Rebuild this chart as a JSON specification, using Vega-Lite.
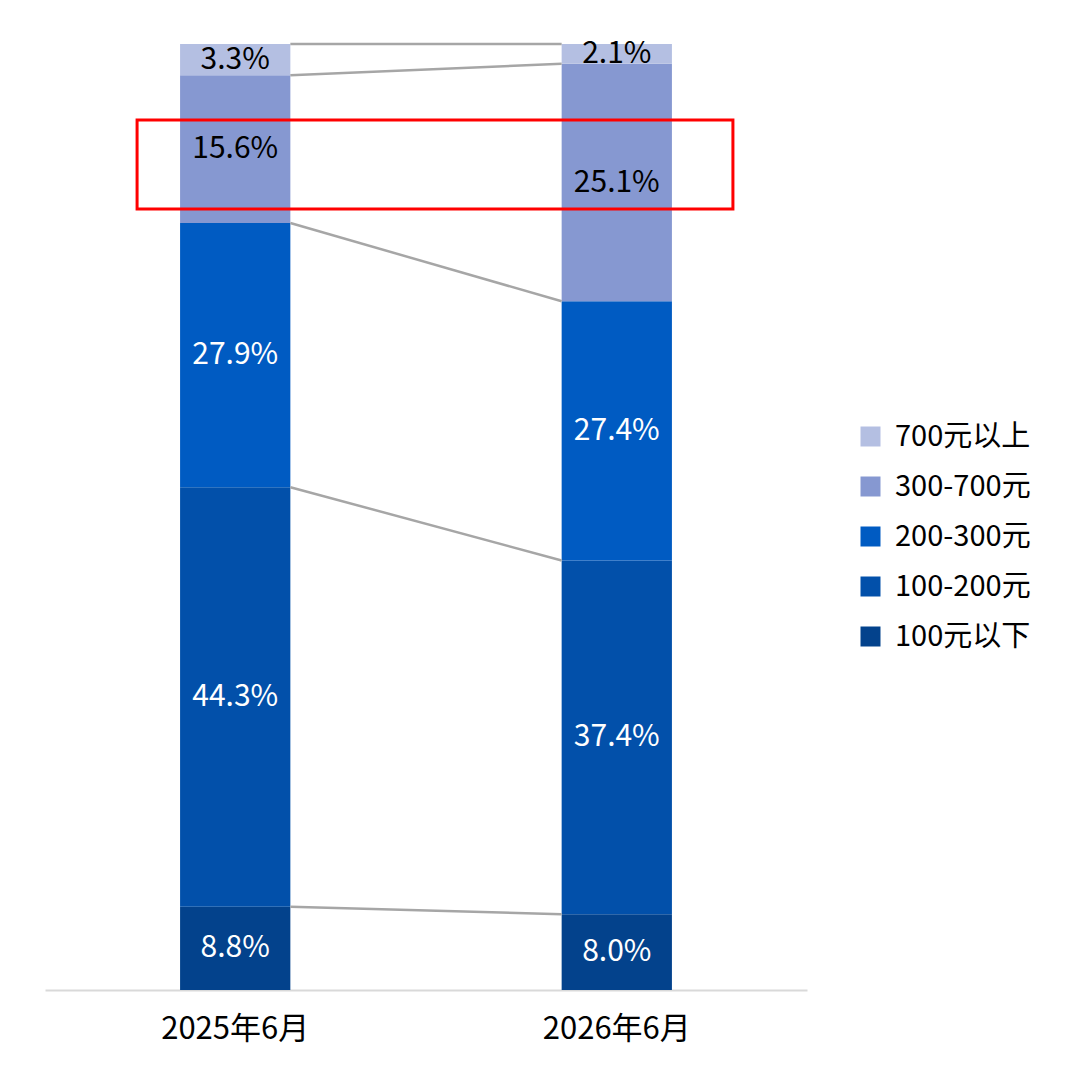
{
  "$schema": "https://vega.github.io/schema/vega-lite/v6.json",
  "width": 762,
  "height": 946,
  "autosize": {"type": "none"},
  "padding": {"left": 45, "top": 44, "right": 273, "bottom": 90},
  "background": "white",
  "data": {
    "values": [
      {"month": "2025年6月", "tier": "100元以下", "k": 1, "share": 8.8},
      {"month": "2025年6月", "tier": "100-200元", "k": 2, "share": 44.3},
      {"month": "2025年6月", "tier": "200-300元", "k": 3, "share": 27.9},
      {"month": "2025年6月", "tier": "300-700元", "k": 4, "share": 15.6},
      {"month": "2025年6月", "tier": "700元以上", "k": 5, "share": 3.3},
      {"month": "2026年6月", "tier": "100元以下", "k": 1, "share": 8.0},
      {"month": "2026年6月", "tier": "100-200元", "k": 2, "share": 37.4},
      {"month": "2026年6月", "tier": "200-300元", "k": 3, "share": 27.4},
      {"month": "2026年6月", "tier": "300-700元", "k": 4, "share": 25.1},
      {"month": "2026年6月", "tier": "700元以上", "k": 5, "share": 2.1}
    ]
  },
  "transform": [
    {
      "stack": "share",
      "groupby": ["month"],
      "sort": [{"field": "k", "order": "ascending"}],
      "offset": "normalize",
      "as": ["y0", "y1"]
    },
    {"calculate": "(datum.y0 + datum.y1) / 2", "as": "mid"},
    {"calculate": "format(datum.share, '.1f') + '%'", "as": "label"}
  ],
  "encoding": {
    "x": {
      "field": "month",
      "type": "nominal",
      "title": null,
      "scale": {"paddingInner": 0.711, "paddingOuter": 0.354},
      "axis": {
        "labelAngle": 0,
        "labelFontSize": 31,
        "labelColor": "#000000",
        "labelPadding": 24,
        "ticks": false,
        "domainColor": "#d9d9d9",
        "domainWidth": 2
      }
    }
  },
  "layer": [
    {
      "mark": {"type": "bar"},
      "encoding": {
        "y": {
          "field": "y1",
          "type": "quantitative",
          "scale": {"domain": [0, 1], "nice": false},
          "axis": null
        },
        "y2": {"field": "y0"},
        "color": {
          "field": "tier",
          "type": "nominal",
          "scale": {
            "domain": ["700元以上", "300-700元", "200-300元", "100-200元", "100元以下"],
            "range": ["#b4bfe2", "#8698d1", "#005bc2", "#0250aa", "#03428c"]
          },
          "legend": {
            "title": null,
            "orient": "none",
            "legendX": 811,
            "legendY": 378,
            "symbolType": "square",
            "symbolSize": 400,
            "symbolStrokeWidth": 0,
            "labelFontSize": 29,
            "labelColor": "#000000",
            "labelOffset": 10,
            "rowPadding": 20
          }
        }
      }
    },
    {
      "mark": {"type": "text", "fontSize": 30},
      "encoding": {
        "y": {"field": "mid", "type": "quantitative"},
        "text": {"field": "label"},
        "color": {
          "condition": {"test": "datum.k >= 4", "value": "#000000"},
          "value": "#ffffff"
        }
      }
    },
    {
      "transform": [
        {"pivot": "month", "value": "y1", "groupby": ["tier"]}
      ],
      "mark": {"type": "rule", "color": "#a6a6a6", "strokeWidth": 2.5},
      "encoding": {
        "x": {"datum": "2025年6月", "bandPosition": 1},
        "x2": {"datum": "2026年6月", "bandPosition": 0},
        "y": {"field": "2025年6月", "type": "quantitative"},
        "y2": {"field": "2026年6月"}
      }
    },
    {
      "data": {"values": [{"note": "highlight"}]},
      "mark": {
        "type": "rect",
        "fill": null,
        "fillOpacity": 0,
        "stroke": "#ff0000",
        "strokeWidth": 3,
        "xOffset": -43,
        "x2Offset": 61
      },
      "encoding": {
        "x": {"datum": "2025年6月", "bandPosition": 0},
        "x2": {"datum": "2026年6月", "bandPosition": 1},
        "y": {"datum": 0.9197},
        "y2": {"datum": 0.8256}
      }
    }
  ],
  "config": {
    "font": "Noto Sans CJK SC",
    "view": {"stroke": null}
  }
}
